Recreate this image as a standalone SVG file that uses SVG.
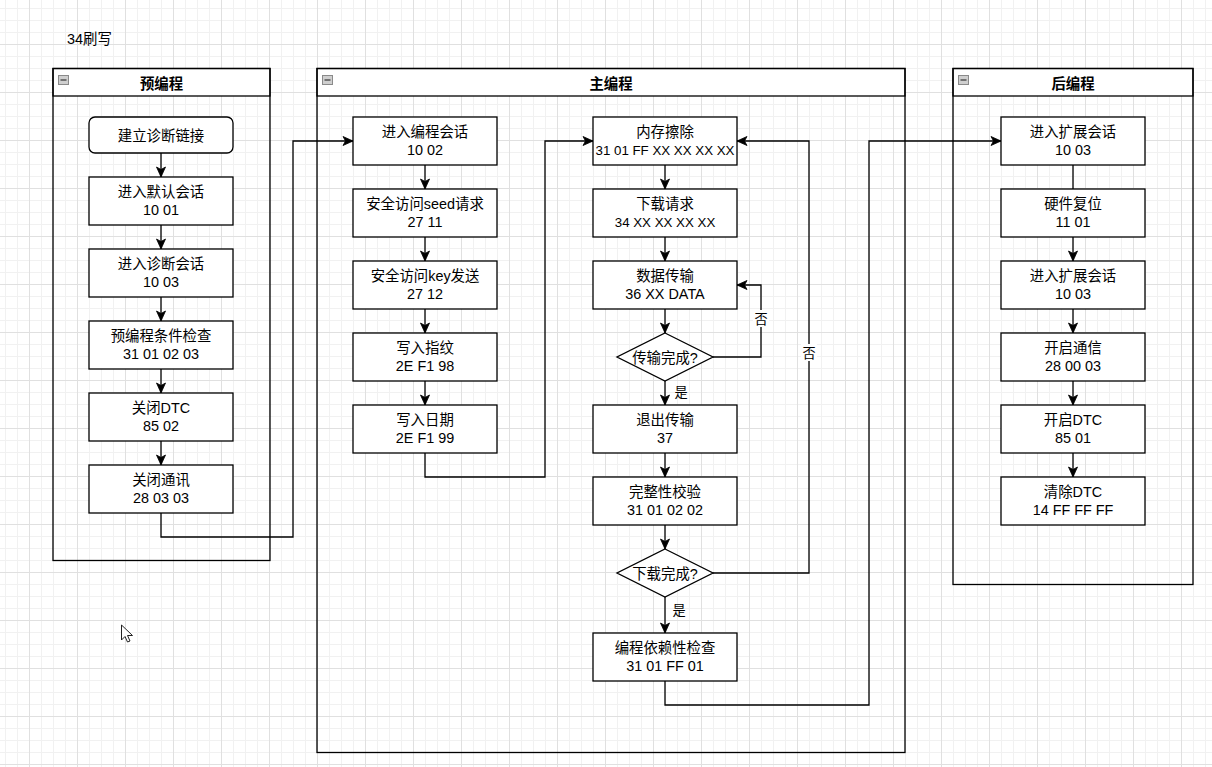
<svg xmlns="http://www.w3.org/2000/svg" width="1212" height="767" viewBox="0 0 1212 767">
<style>
text{font-family:"Liberation Sans","Noto Sans CJK SC",sans-serif;font-size:14.4px;fill:#000}
.c{text-anchor:middle}
.nx{font-size:13.3px}
.hd{font-weight:bold;text-anchor:middle}
.lbl{font-size:13.2px;text-anchor:middle}
.box{fill:#fff;stroke:#000;stroke-width:1.3}
.dia{fill:#fff;stroke:#000;stroke-width:1.3}
.lane{fill:none;stroke:#000;stroke-width:1.3}
.head{fill:#fff;stroke:#000;stroke-width:1.3}
.icon{fill:#cfcfcf;stroke:#8a8a8a;stroke-width:1}
.minus{stroke:#333;stroke-width:1.2}
.e{fill:none;stroke:#000;stroke-width:1.3}
.a{marker-end:url(#arr)}
</style>
<defs>
<pattern id="grid" patternUnits="userSpaceOnUse" x="29" y="44" width="48" height="48">
<rect width="48" height="48" fill="#fff"/>
<path d="M12.5 0V48M24.5 0V48M36.5 0V48M0 12.5H48M0 24.5H48M0 36.5H48" stroke="#f1f1f1" stroke-width="1"/>
<path d="M0.5 0V48M0 0.5H48" stroke="#e0e0e0" stroke-width="1"/>
</pattern>
<marker id="arr" markerUnits="userSpaceOnUse" markerWidth="12" markerHeight="12" viewBox="0 0 12 12" refX="11" refY="6" orient="auto">
<path d="M1,1.5 L11,6 L1,10.5 L3.5,6 Z" fill="#000" stroke="#000" stroke-width="0.8"/>
</marker>
</defs>
<rect width="1212" height="767" fill="url(#grid)"/>

<text x="67" y="44">34刷写</text>

<g id="lane-pre">
<rect class="head" x="53" y="68.5" width="217" height="27.5"/>
<rect class="lane" x="53" y="68.5" width="217" height="492"/>
<rect class="icon" x="58.5" y="75.5" width="10" height="9"/>
<line class="minus" x1="60.5" y1="80" x2="66.5" y2="80"/>
<text class="hd" x="161.5" y="89">预编程</text>
</g>
<g id="lane-main">
<rect class="head" x="317" y="68.5" width="588" height="27.5"/>
<rect class="lane" x="317" y="68.5" width="588" height="684"/>
<rect class="icon" x="322.5" y="75.5" width="10" height="9"/>
<line class="minus" x1="324.5" y1="80" x2="330.5" y2="80"/>
<text class="hd" x="611" y="89">主编程</text>
</g>
<g id="lane-post">
<rect class="head" x="953" y="68.5" width="240" height="27.5"/>
<rect class="lane" x="953" y="68.5" width="240" height="516"/>
<rect class="icon" x="958.5" y="75.5" width="10" height="9"/>
<line class="minus" x1="960.5" y1="80" x2="966.5" y2="80"/>
<text class="hd" x="1073" y="89">后编程</text>
</g>

<g id="connectors">
<path class="e a" d="M161 153V177"/>
<path class="e a" d="M161 225V249"/>
<path class="e a" d="M161 297V321"/>
<path class="e a" d="M161 369V393"/>
<path class="e a" d="M161 441V465"/>
<path class="e a" d="M161 513V537H293V141H353"/>
<path class="e a" d="M425 165V189"/>
<path class="e a" d="M425 237V261"/>
<path class="e a" d="M425 309V333"/>
<path class="e a" d="M425 381V405"/>
<path class="e a" d="M425 453V477H545V141H593"/>
<path class="e a" d="M665 165V189"/>
<path class="e a" d="M665 237V261"/>
<path class="e a" d="M665 309V333"/>
<path class="e a" d="M665 381V405"/>
<path class="e a" d="M665 453V477"/>
<path class="e a" d="M665 525V549"/>
<path class="e a" d="M665 597V633"/>
<path class="e a" d="M713 357H761V285H737"/>
<path class="e a" d="M713 573H809V141H737"/>
<path class="e a" d="M665 681V705H869V141H1001"/>
<path class="e" d="M1073 165V189"/>
<path class="e a" d="M1073 237V261"/>
<path class="e a" d="M1073 309V333"/>
<path class="e a" d="M1073 381V405"/>
<path class="e a" d="M1073 453V477"/>
<rect x="753" y="310" width="16" height="17" fill="#fff"/>
<text class="lbl" x="761" y="324">否</text>
<rect x="801" y="344" width="16" height="17" fill="#fff"/>
<text class="lbl" x="809" y="358">否</text>
<text class="lbl" x="681" y="397">是</text>
<text class="lbl" x="679" y="614.5">是</text>
</g>

<g id="n-link"><rect class="box" x="89" y="117" width="144" height="36" rx="6"/><text class="c" x="161" y="141">建立诊断链接</text></g>
<g id="n-default"><rect class="box" x="89" y="177" width="144" height="48"/><text class="c" x="161" y="197.4">进入默认会话</text><text class="c" x="161" y="214.6">10 01</text></g>
<g id="n-diag"><rect class="box" x="89" y="249" width="144" height="48"/><text class="c" x="161" y="269.4">进入诊断会话</text><text class="c" x="161" y="286.6">10 03</text></g>
<g id="n-precheck"><rect class="box" x="89" y="321" width="144" height="48"/><text class="c" x="161" y="341.4">预编程条件检查</text><text class="c" x="161" y="358.6">31 01 02 03</text></g>
<g id="n-dtcoff"><rect class="box" x="89" y="393" width="144" height="48"/><text class="c" x="161" y="413.4">关闭DTC</text><text class="c" x="161" y="430.6">85 02</text></g>
<g id="n-commoff"><rect class="box" x="89" y="465" width="144" height="48"/><text class="c" x="161" y="485.4">关闭通讯</text><text class="c" x="161" y="502.6">28 03 03</text></g>

<g id="n-prog"><rect class="box" x="353" y="117" width="144" height="48"/><text class="c" x="425" y="137.4">进入编程会话</text><text class="c" x="425" y="154.6">10 02</text></g>
<g id="n-seed"><rect class="box" x="353" y="189" width="144" height="48"/><text class="c" x="425" y="209.4">安全访问seed请求</text><text class="c" x="425" y="226.6">27 11</text></g>
<g id="n-key"><rect class="box" x="353" y="261" width="144" height="48"/><text class="c" x="425" y="281.4">安全访问key发送</text><text class="c" x="425" y="298.6">27 12</text></g>
<g id="n-finger"><rect class="box" x="353" y="333" width="144" height="48"/><text class="c" x="425" y="353.4">写入指纹</text><text class="c" x="425" y="370.6">2E F1 98</text></g>
<g id="n-date"><rect class="box" x="353" y="405" width="144" height="48"/><text class="c" x="425" y="425.4">写入日期</text><text class="c" x="425" y="442.6">2E F1 99</text></g>

<g id="n-erase"><rect class="box" x="593" y="117" width="144" height="48"/><text class="c" x="665" y="137.4">内存擦除</text><text class="c nx" x="665" y="154.6">31 01 FF XX XX XX XX</text></g>
<g id="n-req"><rect class="box" x="593" y="189" width="144" height="48"/><text class="c" x="665" y="209.4">下载请求</text><text class="c nx" x="665" y="226.6">34 XX XX XX XX</text></g>
<g id="n-data"><rect class="box" x="593" y="261" width="144" height="48"/><text class="c" x="665" y="281.4">数据传输</text><text class="c" x="665" y="298.6">36 XX DATA</text></g>
<g id="d-trans"><path class="dia" d="M665 333L713 357L665 381L617 357Z"/><text class="c" x="665" y="362.5">传输完成?</text></g>
<g id="n-exit"><rect class="box" x="593" y="405" width="144" height="48"/><text class="c" x="665" y="425.4">退出传输</text><text class="c" x="665" y="442.6">37</text></g>
<g id="n-integrity"><rect class="box" x="593" y="477" width="144" height="48"/><text class="c" x="665" y="497.4">完整性校验</text><text class="c" x="665" y="514.6">31 01 02 02</text></g>
<g id="d-download"><path class="dia" d="M665 549L713 573L665 597L617 573Z"/><text class="c" x="665" y="578.5">下载完成?</text></g>
<g id="n-depend"><rect class="box" x="593" y="633" width="144" height="48"/><text class="c" x="665" y="653.4">编程依赖性检查</text><text class="c" x="665" y="670.6">31 01 FF 01</text></g>

<g id="n-ext1"><rect class="box" x="1001" y="117" width="144" height="48"/><text class="c" x="1073" y="137.4">进入扩展会话</text><text class="c" x="1073" y="154.6">10 03</text></g>
<g id="n-reset"><rect class="box" x="1001" y="189" width="144" height="48"/><text class="c" x="1073" y="209.4">硬件复位</text><text class="c" x="1073" y="226.6">11 01</text></g>
<g id="n-ext2"><rect class="box" x="1001" y="261" width="144" height="48"/><text class="c" x="1073" y="281.4">进入扩展会话</text><text class="c" x="1073" y="298.6">10 03</text></g>
<g id="n-common"><rect class="box" x="1001" y="333" width="144" height="48"/><text class="c" x="1073" y="353.4">开启通信</text><text class="c" x="1073" y="370.6">28 00 03</text></g>
<g id="n-dtcon"><rect class="box" x="1001" y="405" width="144" height="48"/><text class="c" x="1073" y="425.4">开启DTC</text><text class="c" x="1073" y="442.6">85 01</text></g>
<g id="n-clear"><rect class="box" x="1001" y="477" width="144" height="48"/><text class="c" x="1073" y="497.4">清除DTC</text><text class="c" x="1073" y="514.6">14 FF FF FF</text></g>

<path d="M121.5 625V640L125 636.5L127.5 642L130 641L127.5 635.5L132.5 635.5Z" fill="#fff" stroke="#222" stroke-width="1" stroke-linejoin="round"/>
</svg>
